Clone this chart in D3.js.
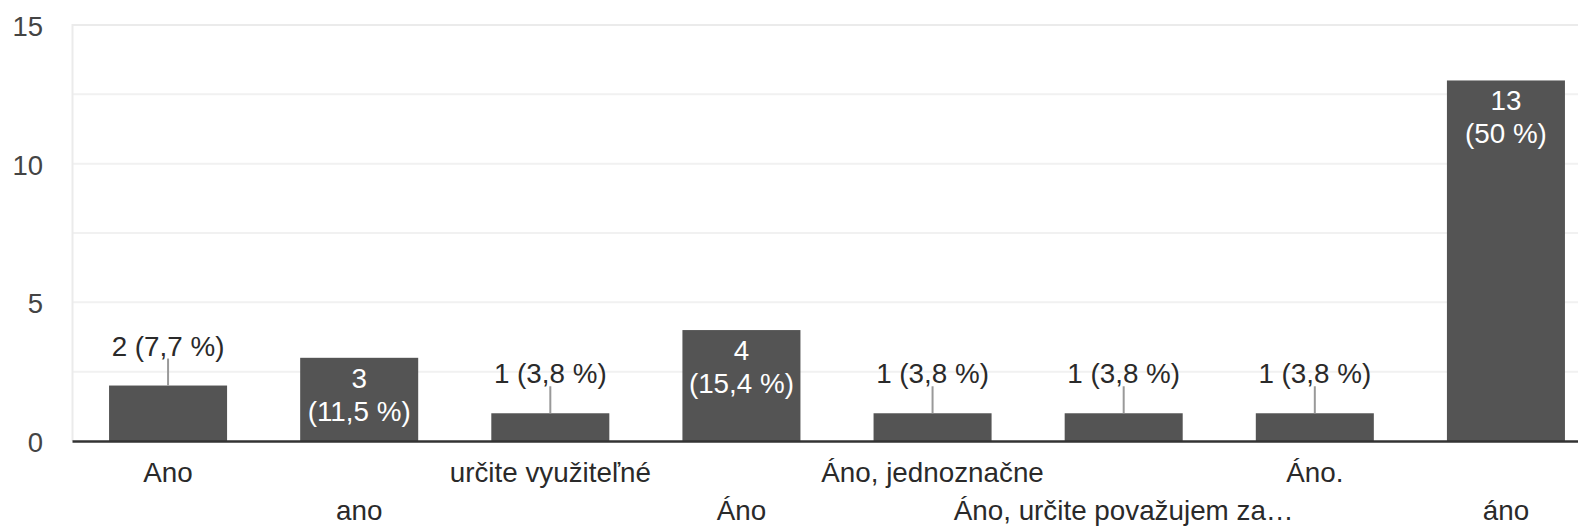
<!DOCTYPE html>
<html>
<head>
<meta charset="utf-8">
<script src="https://cdn.jsdelivr.net/npm/d3@7"></script>
<style>
  body { margin: 0; background: #fff; overflow: hidden; }
  svg { display: block; font-family: "Liberation Sans", Arial, sans-serif; }
  .tick-label { font-size: 27.5px; fill: #444; }
  .cat-label { font-size: 27.8px; fill: #2a2a2a; }
  .val-out { font-size: 27.8px; fill: #2a2a2a; }
  .val-in { font-size: 27.8px; fill: #fff; }
</style>
</head>
<body>
<div id="chart"></div>
<script>
// answers and counts
const categories = ["Ano", "ano", "určite využiteľné", "Áno", "Áno, jednoznačne", "Áno, určite považujem za…", "Áno.", "áno"];
const counts = [2, 3, 1, 4, 1, 1, 1, 13];
const yTicks = [0, 5, 10, 15];
const gridTicks = [0, 2.5, 5, 7.5, 10, 12.5, 15];

const width = 1578, height = 527;
const margin = {top: 25, left: 72.5, bottom: 86};

const total = d3.sum(counts);
const pct = v => (Math.round(v / total * 1000) / 10).toString().replace(".", ",") + " %";

const svg = d3.select("#chart").append("svg")
    .attr("width", width)
    .attr("height", height);

const x = d3.scaleBand()
    .domain(categories)
    .range([margin.left, 1601.5])
    .paddingInner(0.3825)
    .paddingOuter(0.19125);

const y = d3.scaleLinear()
    .domain([0, 15])
    .range([height - margin.bottom, margin.top]);

// gridlines
svg.append("g").selectAll("line")
    .data(gridTicks.filter(d => d > 0))
  .join("line")
    .attr("x1", margin.left)
    .attr("x2", width)
    .attr("y1", d => y(d))
    .attr("y2", d => y(d))
    .attr("stroke", d => d === 15 ? "#ebebeb" : "#f1f1f1")
    .attr("stroke-width", 2);

svg.append("line")
    .attr("x1", margin.left).attr("x2", margin.left)
    .attr("y1", y(15) - 1).attr("y2", y(0))
    .attr("stroke", "#ebebeb")
    .attr("stroke-width", 2);

// y labels
svg.append("g").selectAll("text")
    .data(yTicks)
  .join("text")
    .attr("class", "tick-label")
    .attr("x", 43)
    .attr("y", d => y(d) + 1.5)
    .attr("dy", "0.35em")
    .attr("text-anchor", "end")
    .text(d => d);

const data = categories.map((c, i) => ({cat: c, value: counts[i], i: i}));

// bars
svg.append("g").selectAll("rect")
    .data(data)
  .join("rect")
    .attr("x", d => x(d.cat))
    .attr("y", d => y(d.value))
    .attr("width", x.bandwidth())
    .attr("height", d => y(0) - y(d.value))
    .attr("fill", "#545454");

// baseline
svg.append("line")
    .attr("x1", margin.left).attr("x2", width)
    .attr("y1", y(0) + 0.5).attr("y2", y(0) + 0.5)
    .attr("stroke", "#333")
    .attr("stroke-width", 2.5);

// value labels
const inside = d => y(0) - y(d.value) > 70;
const cx = d => x(d.cat) + x.bandwidth() / 2;

const lab = svg.append("g");
data.filter(d => !inside(d)).forEach(d => {
  lab.append("line")
      .attr("x1", cx(d)).attr("x2", cx(d))
      .attr("y1", y(d.value) - 27).attr("y2", y(d.value))
      .attr("stroke", "#999")
      .attr("stroke-width", 2);
  lab.append("text")
      .attr("class", "val-out")
      .attr("x", cx(d))
      .attr("y", y(d.value) - 30)
      .attr("text-anchor", "middle")
      .text(`${d.value} (${pct(d.value)})`);
});
data.filter(inside).forEach(d => {
  lab.append("text")
      .attr("class", "val-in")
      .attr("x", cx(d))
      .attr("y", y(d.value) + 30)
      .attr("text-anchor", "middle")
      .text(d.value);
  lab.append("text")
      .attr("class", "val-in")
      .attr("x", cx(d))
      .attr("y", y(d.value) + 63)
      .attr("text-anchor", "middle")
      .text(`(${pct(d.value)})`);
});

// category labels, staggered on two rows
svg.append("g").selectAll("text")
    .data(data)
  .join("text")
    .attr("class", "cat-label")
    .attr("x", cx)
    .attr("y", d => d.i % 2 === 0 ? 482 : 520)
    .attr("text-anchor", "middle")
    .text(d => d.cat);
</script>
</body>
</html>
